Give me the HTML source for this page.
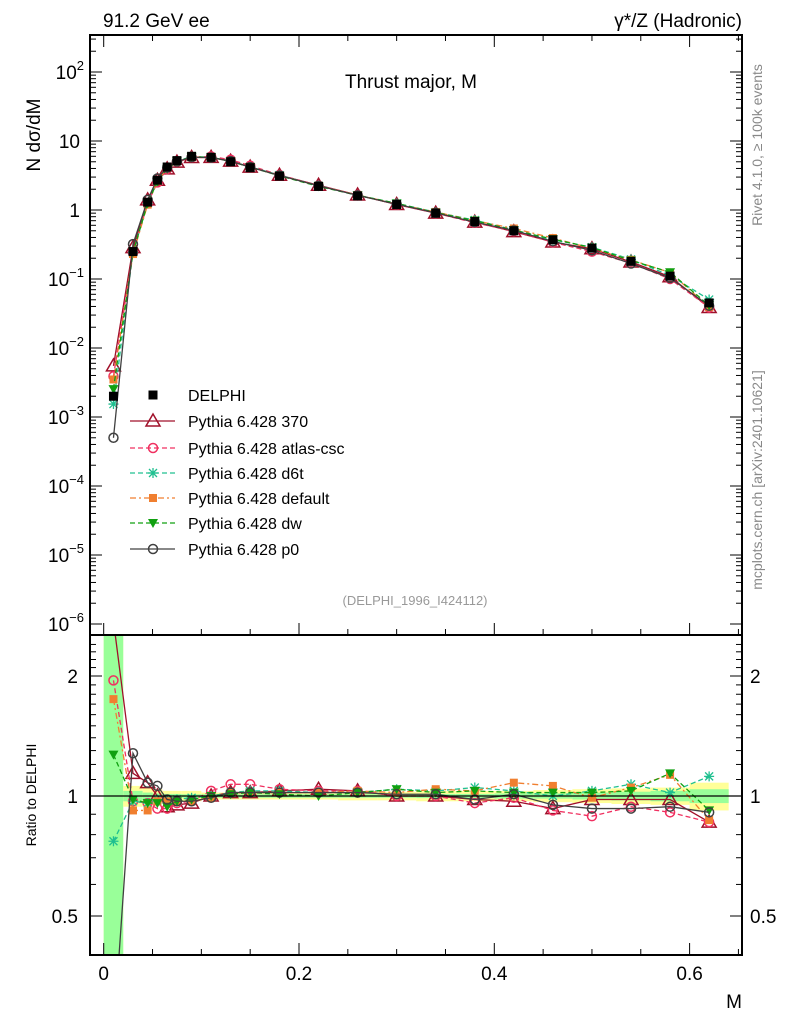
<!DOCTYPE html>
<html><head><meta charset="utf-8"><style>
html,body{margin:0;padding:0;background:#fff;overflow:hidden;width:786px;height:1024px;}
svg{display:block;}
svg text{font-family:"Liberation Sans",sans-serif;}
</style></head><body>
<svg id="c" width="786" height="1024" xmlns="http://www.w3.org/2000/svg">
<defs>
<clipPath id="cm"><rect x="90" y="35" width="652" height="600"/></clipPath>
<clipPath id="cr"><rect x="90" y="635" width="652" height="320"/></clipPath>
</defs>
<g id="bands" clip-path="url(#cr)"></g>
<g id="main" clip-path="url(#cm)"></g>
<g id="ratio" clip-path="url(#cr)"></g>
<g id="axes"></g>
<g id="legend"></g>
<text x="103" y="27" font-size="19">91.2 GeV ee</text>
<text x="742" y="27" font-size="19" text-anchor="end">γ*/Z (Hadronic)</text>
<text x="411" y="88" font-size="19" text-anchor="middle">Thrust major, M</text>
<text x="415" y="605" font-size="13" fill="#999" text-anchor="middle">(DELPHI_1996_I424112)</text>
<text transform="translate(40,135) rotate(-90)" font-size="19" text-anchor="middle">N  dσ/dM</text>
<text transform="translate(36,795) rotate(-90)" font-size="14" text-anchor="middle">Ratio to DELPHI</text>
<text x="742" y="1008" font-size="19" text-anchor="end">M</text>
<text transform="translate(762,145) rotate(-90)" font-size="14" fill="#888" text-anchor="middle">Rivet 4.1.0, ≥ 100k events</text>
<text transform="translate(762,480) rotate(-90)" font-size="14" fill="#888" text-anchor="middle">mcplots.cern.ch [arXiv:2401.10621]</text>
</svg>
<script>
const bins=[0.01,0.03,0.045,0.055,0.065,0.075,0.09,0.11,0.13,0.15,0.18,0.22,0.26,0.30,0.34,0.38,0.42,0.46,0.50,0.54,0.58,0.62];
const delphi=[0.002,0.25,1.3,2.7,4.2,5.2,6.0,5.8,5.0,4.1,3.1,2.2,1.6,1.2,0.9,0.68,0.5,0.37,0.28,0.18,0.11,0.045];
const r370=[2.75,1.14,1.08,1.0,0.94,0.95,0.96,1.0,1.02,1.02,1.03,1.04,1.03,1.0,1.0,0.98,0.97,0.93,0.98,0.98,0.98,0.86];
const rAtlas=[1.95,0.97,0.96,0.93,0.93,0.96,0.97,1.03,1.07,1.07,1.04,1.03,1.03,1.0,1.0,0.96,0.99,0.92,0.89,0.94,0.91,0.86];
const rD6t=[0.77,0.97,0.96,0.98,0.98,0.98,0.99,1.0,1.02,1.03,1.03,1.02,1.02,1.04,1.03,1.05,1.03,1.0,1.03,1.07,1.02,1.12];
const rDefault=[1.75,0.92,0.92,0.97,0.97,0.97,0.97,0.99,1.02,1.02,1.02,1.02,1.03,1.02,1.04,1.03,1.08,1.06,0.99,1.05,1.13,0.87];
const rDw=[1.27,0.98,0.96,0.96,0.94,0.97,0.98,1.0,1.01,1.02,1.01,1.0,1.02,1.04,1.02,1.03,1.02,1.02,1.02,1.03,1.14,0.92];
const rP0=[0.25,1.28,1.08,1.06,0.98,0.97,0.97,0.99,1.02,1.02,1.02,1.02,1.02,1.01,1.01,0.98,1.01,0.95,0.93,0.93,0.94,0.91];
const statErr=[3,0.03,0.02,0.015,0.012,0.012,0.01,0.01,0.01,0.01,0.01,0.01,0.01,0.01,0.012,0.012,0.015,0.015,0.02,0.025,0.03,0.04];
const totErr=[3,0.06,0.05,0.04,0.03,0.03,0.03,0.02,0.02,0.02,0.02,0.02,0.025,0.025,0.03,0.03,0.03,0.035,0.04,0.045,0.05,0.08];
const binEdges=[0,0.02,0.04,0.05,0.06,0.07,0.08,0.10,0.12,0.14,0.16,0.20,0.24,0.28,0.32,0.36,0.40,0.44,0.48,0.52,0.56,0.60,0.64];
const NS="http://www.w3.org/2000/svg";
const X=m=>103.7+m*976.5;
const Y=v=>210-69*Math.log10(v);
const R=r=>796-398.6*Math.log10(r);
const RT=635,RB=955;
function mk(tag,at,parent){const e=document.createElementNS(NS,tag);for(const k in at)e.setAttribute(k,at[k]);parent.appendChild(e);return e;}
const gM=document.getElementById('main'),gR=document.getElementById('ratio'),gB=document.getElementById('bands'),gA=document.getElementById('axes'),gL=document.getElementById('legend');
const cl=y=>Math.max(RT,Math.min(RB,y));
for(let i=0;i<bins.length;i++){
 const x0=X(binEdges[i]),x1=X(binEdges[i+1]);
 let y0=cl(R(1+totErr[i])),y1=cl(R(Math.max(1-totErr[i],0.05)));
 let e=mk('rect',{x:x0,y:y0,width:x1-x0,height:y1-y0,fill:'#ffff99'},gB);
 
 
 y0=cl(R(1+statErr[i]));y1=cl(R(Math.max(1-statErr[i],0.05)));
 e=mk('rect',{x:x0,y:y0,width:x1-x0,height:y1-y0,fill:'#99ff99'},gB);
 
 
}
const series=[
 {name:'Pythia 6.428 370',r:r370,col:'#a0102a',dash:'',m:'tri'},
 {name:'Pythia 6.428 atlas-csc',r:rAtlas,col:'#f03060',dash:'5,3',m:'circ'},
 {name:'Pythia 6.428 d6t',r:rD6t,col:'#20c090',dash:'5,3',m:'star'},
 {name:'Pythia 6.428 default',r:rDefault,col:'#f07f30',dash:'6,3,2,3',m:'sq'},
 {name:'Pythia 6.428 dw',r:rDw,col:'#10a010',dash:'5,3',m:'dtri'},
 {name:'Pythia 6.428 p0',r:rP0,col:'#404040',dash:'',m:'circ'}
];
function marker(g,t,x,y,col){
 let e;
 if(t==='tri')e=mk('polygon',{points:`${x},${y-7} ${x-7},${y+5} ${x+7},${y+5}`,fill:'none',stroke:col,'stroke-width':1.5},g);
 else if(t==='circ')e=mk('circle',{cx:x,cy:y,r:4.5,fill:'none',stroke:col,'stroke-width':1.5},g);
 else if(t==='sq')e=mk('rect',{x:x-4,y:y-4,width:8,height:8,fill:col},g);
 else if(t==='dtri')e=mk('polygon',{points:`${x-5},${y-4} ${x+5},${y-4} ${x},${y+5}`,fill:col},g);
 else if(t==='box')e=mk('rect',{x:x-4.5,y:y-4.5,width:9,height:9,fill:col},g);
 else{e=mk('path',{d:`M${x-5} ${y}H${x+5}M${x} ${y-5}V${y+5}M${x-4} ${y-4}L${x+4} ${y+4}M${x-4} ${y+4}L${x+4} ${y-4}`,stroke:col,'stroke-width':1.3},g);}
 
 
}
// clip a ratio polyline to panel vertically (exact segment intersection)
function clipPath(pts){
 let d='';let pen=false;
 for(let i=0;i<pts.length-1;i++){
  let [x0,y0]=pts[i],[x1,y1]=pts[i+1];
  let t0=0,t1=1;const dy=y1-y0;
  if(dy!==0){let ta=(RT-y0)/dy,tb=(RB-y0)/dy;let lo=Math.min(ta,tb),hi=Math.max(ta,tb);t0=Math.max(t0,lo);t1=Math.min(t1,hi);}
  else if(y0<RT||y0>RB){pen=false;continue;}
  if(t0>=t1){pen=false;continue;}
  const ax=x0+(x1-x0)*t0,ay=y0+dy*t0,bx=x0+(x1-x0)*t1,by=y0+dy*t1;
  if(!pen||t0>0)d+=`M${ax.toFixed(2)} ${ay.toFixed(2)}`;
  d+=`L${bx.toFixed(2)} ${by.toFixed(2)}`;
  pen=t1>=1;
 }
 return d;
}
series.forEach(s=>{
 const mainPts=bins.map((b,i)=>X(b)+','+Y(delphi[i]*s.r[i])).join(' ');
 let e=mk('polyline',{points:mainPts,fill:'none',stroke:s.col,'stroke-width':1.3,'stroke-dasharray':s.dash},gM);
 
 
 const rp=bins.map((b,i)=>[X(b),R(s.r[i])]);
 e=mk('path',{d:clipPath(rp),fill:'none',stroke:s.col,'stroke-width':1.3,'stroke-dasharray':s.dash},gR);
 
 
 bins.forEach((b,i)=>{marker(gM,s.m,X(b),Y(delphi[i]*s.r[i]),s.col);const ry=R(s.r[i]);if(ry>RT&&ry<RB)marker(gR,s.m,X(b),ry,s.col);});
});
bins.forEach((b,i)=>marker(gM,'box',X(b),Y(delphi[i]),'#000'));
let e=mk('line',{x1:90,x2:742,y1:R(1),y2:R(1),stroke:'#000','stroke-width':1.2},gR);


mk('rect',{x:90,y:35,width:652,height:600,fill:'none',stroke:'#000','stroke-width':2},gA);
mk('rect',{x:90,y:635,width:652,height:320,fill:'none',stroke:'#000','stroke-width':2},gA);
const decades=[-6,-5,-4,-3,-2,-1,0,1,2];
decades.forEach(d=>{
 for(let k=1;k<10;k++){const y=Y(k*Math.pow(10,d));if(y<36||y>634)continue;const L=k===1?12:6;
  mk('line',{x1:90,x2:90+L,y1:y,y2:y,stroke:'#000'},gA);mk('line',{x1:742,x2:742-L,y1:y,y2:y,stroke:'#000'},gA);}
 const t=mk('text',{x:d>=0&&d<2?80:84,y:Y(Math.pow(10,d))+7,'font-size':19,'text-anchor':'end'},gA);
 if(d===0)t.textContent='1';else if(d===1)t.textContent='10';
 else{t.textContent='10';const s=mk('tspan',{dy:-9,'font-size':13},t);s.textContent=String(d).replace('-','−');}
 
 
});
const rTicks=[0.5,1,2];
for(let v=0.4;v<=2.5;v+=0.1){const y=R(v);if(y<636||y>954)continue;const maj=rTicks.some(t=>Math.abs(t-v)<1e-6);const L=maj?12:6;
 mk('line',{x1:90,x2:90+L,y1:y,y2:y,stroke:'#000'},gA);mk('line',{x1:742,x2:742-L,y1:y,y2:y,stroke:'#000'},gA);}
rTicks.forEach(v=>{
 let t=mk('text',{x:78,y:R(v)+7,'font-size':19,'text-anchor':'end'},gA);t.textContent=String(v);
 
 
 t=mk('text',{x:750,y:R(v)+7,'font-size':19},gA);t.textContent=String(v);
 
 
});
const xTicks=[0,0.2,0.4,0.6];
for(let i=0;i<=13;i++){const m=i*0.05;const x=X(m);if(x>741)continue;const maj=i%4===0;const L=maj?12:6;
 mk('line',{x1:x,x2:x,y1:35,y2:35+L,stroke:'#000'},gA);
 mk('line',{x1:x,x2:x,y1:635,y2:635-L,stroke:'#000'},gA);
 mk('line',{x1:x,x2:x,y1:955,y2:955-L,stroke:'#000'},gA);}
xTicks.forEach(v=>{const t=mk('text',{x:X(v),y:980,'font-size':19,'text-anchor':'middle'},gA);t.textContent=v===0?'0':String(v);
 
 });
const ly=[395,421,448,473,498,523,549];
const ent=[{name:'DELPHI',col:'#000',m:'box',dash:null}].concat(series);
ent.forEach((s,i)=>{
 const g=mk('g',{},gL);
 
 
 if(s.dash!==null)mk('line',{x1:130,x2:175,y1:ly[i],y2:ly[i],stroke:s.col,'stroke-width':1.3,'stroke-dasharray':s.dash},g);
 marker(g,s.m,153,ly[i],s.col);
 const t=mk('text',{x:188,y:ly[i]+6,'font-size':16},g);t.textContent=s.name;
});
</script>
</body></html>
